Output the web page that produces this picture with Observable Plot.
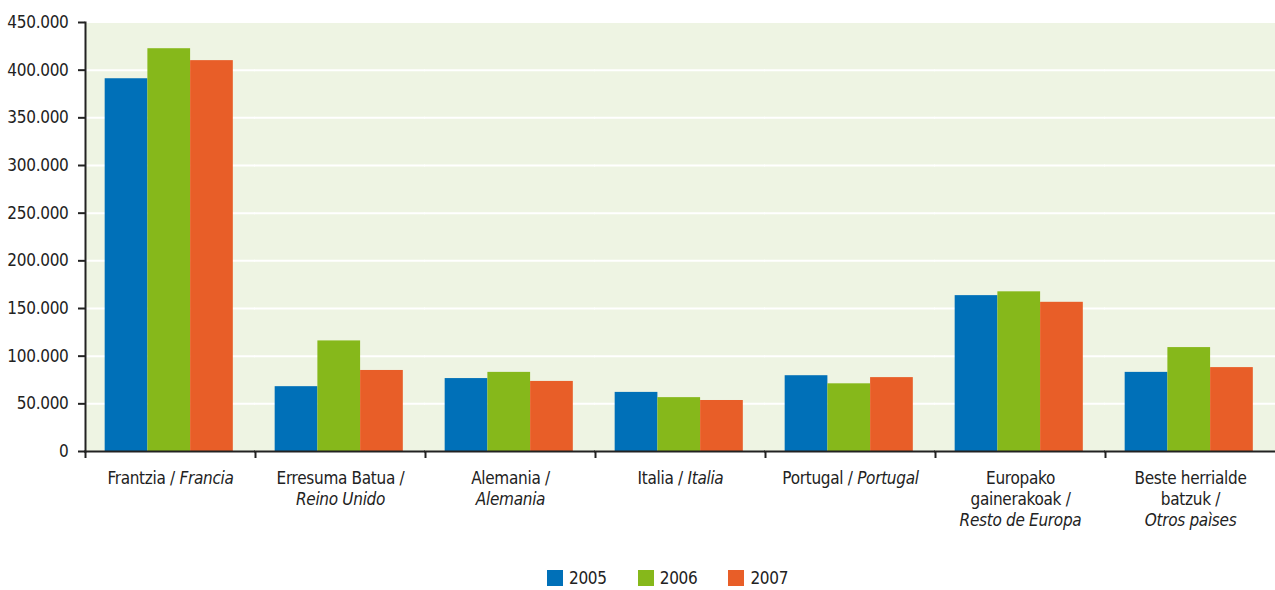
<!DOCTYPE html>
<html>
<head>
<meta charset="utf-8">
<script src="https://cdn.jsdelivr.net/npm/d3@7"></script>
<script src="https://cdn.jsdelivr.net/npm/@observablehq/plot@0.6"></script>
<style>
  html, body { margin: 0; padding: 0; background: #ffffff; }
  body { width: 1275px; height: 590px; overflow: hidden; font-family: "Liberation Sans Narrow", "DejaVu Sans Condensed", "Arial Narrow", sans-serif; color: #222; }
  #legend { display: flex; align-items: center; padding-left: 547px; padding-top: 26px; height: 24px; font-size: 17px; letter-spacing: -0.3px; }
  .item { display: flex; align-items: center; margin-right: 31px; }
  .sw { width: 16px; height: 16px; margin-right: 6px; }
</style>
</head>
<body>
<div id="chart"></div>
<div id="legend"></div>
<script>
const categories = [
  "Frantzia / _Francia_",
  "Erresuma Batua /\n_Reino Unido_",
  "Alemania /\n_Alemania_",
  "Italia / _Italia_",
  "Portugal / _Portugal_",
  "Europako\ngainerakoak /\n_Resto de Europa_",
  "Beste herrialde\nbatzuk /\n_Otros paìses_"
];
const years = ["2005", "2006", "2007"];
const v2005 = [391000, 68000, 76500, 62000, 79500, 163500, 83000];
const v2006 = [422500, 116000, 83000, 56500, 71000, 167500, 109000];
const v2007 = [410000, 85000, 73500, 53500, 77500, 156500, 88000];
const yTicks = [0, 50000, 100000, 150000, 200000, 250000, 300000, 350000, 400000, 450000];
const gridTicks = [50000, 100000, 150000, 200000, 250000, 300000, 350000, 400000];
const colors = ["#0070b8", "#86b81b", "#e85e28"];

const series = [v2005, v2006, v2007];
const data = categories.flatMap((c, i) => years.map((y, j) => ({category: c, year: y, value: series[j][i]})));

const fontFamily = '"Liberation Sans Narrow", "DejaVu Sans Condensed", "Arial Narrow", sans-serif';
const loc = d3.formatLocale({decimal: ",", thousands: ".", grouping: [3], currency: ["", ""]});
const fmt = loc.format(",d");

const W = 1275, ML = 85, MR = 0;
const bandW = (W - ML - MR) / categories.length;

const chart = Plot.plot({
  width: W,
  height: 540,
  marginLeft: ML,
  marginRight: MR,
  marginTop: 22,
  marginBottom: 89,
  style: {fontFamily, fontSize: "17px", color: "#222", background: "transparent", letterSpacing: "-0.3px"},
  fx: {domain: categories, padding: 0, axis: null, label: null},
  x: {domain: years, paddingInner: 0, paddingOuter: 0.49, align: 0.47, round: false, axis: null},
  y: {domain: [0, 450000], axis: null},
  color: {domain: years, range: colors},
  marks: [
    Plot.frame({fill: "#eef4e3", stroke: null, insetLeft: -1, shapeRendering: "crispEdges"}),
    Plot.gridY(gridTicks, {stroke: "white", strokeOpacity: 1, strokeWidth: 2, insetLeft: -1}),
    Plot.barY(data, {fx: "category", x: "year", y: "value", fill: "year"}),
    Plot.ruleY([0], {stroke: "#222", strokeWidth: 2, insetLeft: -1}),
    Plot.axisY(yTicks, {tickSize: 7, tickPadding: 10, tickFormat: fmt, label: null, fontSize: 17, stroke: "#222", strokeWidth: 2}),
    Plot.axisFx({anchor: "bottom", tickSize: 7, tickFormat: () => "", dx: -bandW / 2, label: null, stroke: "#222", strokeWidth: 2}),
    Plot.frame({anchor: "left", facetAnchor: "left", stroke: "#222", strokeWidth: 2}),
    Plot.text(categories, {fx: d => d, text: d => d, frameAnchor: "bottom", lineAnchor: "top", dy: 18, lineHeight: 1.22, fontSize: 17, fill: "#222"})
  ]
});

// italic parts of the tick labels
const svgNS = "http://www.w3.org/2000/svg";
chart.querySelectorAll("text").forEach(t => {
  const spans = t.querySelectorAll("tspan");
  const targets = spans.length ? Array.from(spans) : [t];
  targets.forEach(el => {
    const s = el.textContent;
    if (!s.includes("_")) return;
    el.textContent = "";
    s.split("_").forEach((part, k) => {
      if (!part) return;
      const ts = document.createElementNS(svgNS, "tspan");
      ts.textContent = part;
      if (k % 2) ts.setAttribute("font-style", "italic");
      el.appendChild(ts);
    });
  });
});
document.getElementById("chart").appendChild(chart);

const legend = document.getElementById("legend");
years.forEach((y, i) => {
  const item = document.createElement("div");
  item.className = "item";
  const sw = document.createElement("div");
  sw.className = "sw";
  sw.style.background = colors[i];
  const lab = document.createElement("span");
  lab.textContent = y;
  item.appendChild(sw);
  item.appendChild(lab);
  legend.appendChild(item);
});
</script>
</body>
</html>
